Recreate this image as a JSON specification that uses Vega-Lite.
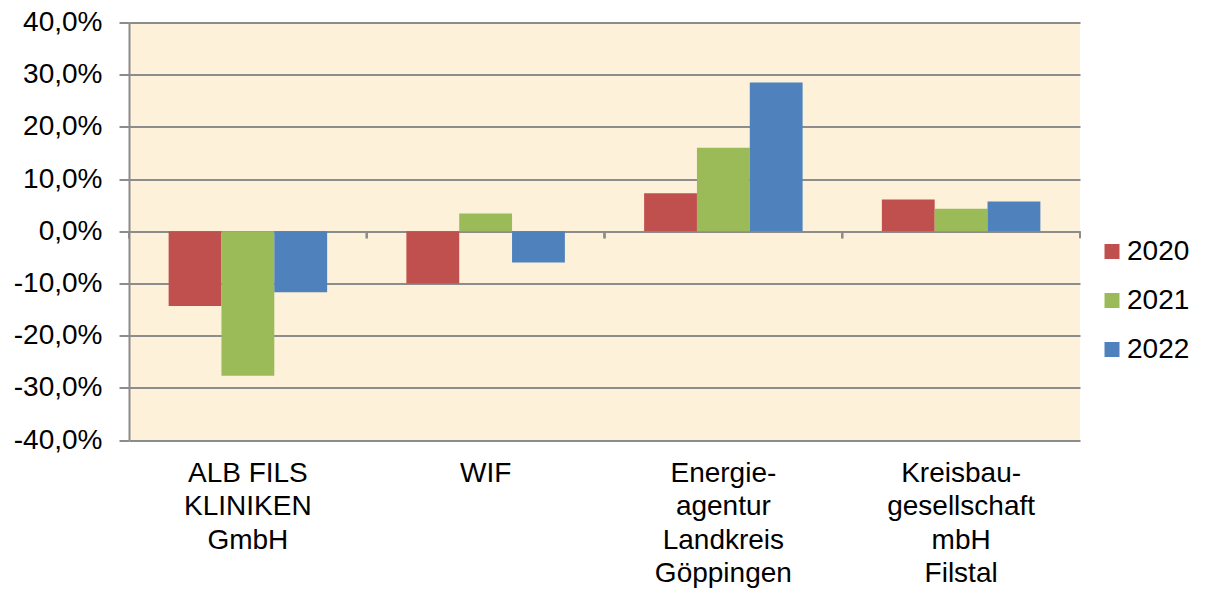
{
  "$schema": "https://vega.github.io/schema/vega-lite/v6.json",
  "autosize": {"type": "none"},
  "width": 951,
  "height": 417.5,
  "padding": {"left": 129, "top": 22.5, "right": 130, "bottom": 151},
  "background": "white",
  "config": {
    "font": "Liberation Sans",
    "view": {"fill": "#fdf1da", "stroke": null}
  },
  "data": {
    "values": [
      {"company": "ALB FILS\nKLINIKEN\nGmbH", "year": "2020", "value": -0.143},
      {"company": "ALB FILS\nKLINIKEN\nGmbH", "year": "2021", "value": -0.277},
      {"company": "ALB FILS\nKLINIKEN\nGmbH", "year": "2022", "value": -0.117},
      {"company": "WIF", "year": "2020", "value": -0.100},
      {"company": "WIF", "year": "2021", "value": 0.034},
      {"company": "WIF", "year": "2022", "value": -0.060},
      {"company": "Energie-\nagentur\nLandkreis\nGöppingen", "year": "2020", "value": 0.073},
      {"company": "Energie-\nagentur\nLandkreis\nGöppingen", "year": "2021", "value": 0.160},
      {"company": "Energie-\nagentur\nLandkreis\nGöppingen", "year": "2022", "value": 0.285},
      {"company": "Kreisbau-\ngesellschaft\nmbH\nFilstal", "year": "2020", "value": 0.061},
      {"company": "Kreisbau-\ngesellschaft\nmbH\nFilstal", "year": "2021", "value": 0.043},
      {"company": "Kreisbau-\ngesellschaft\nmbH\nFilstal", "year": "2022", "value": 0.057}
    ]
  },
  "encoding": {
    "x": {
      "field": "company",
      "type": "nominal",
      "sort": null,
      "scale": {"paddingInner": 0.3333, "paddingOuter": 0.1667},
      "axis": {
        "title": null,
        "domain": false,
        "ticks": false,
        "labelAngle": 0,
        "labelPadding": 19,
        "labelFontSize": 28,
        "labelLineHeight": 33.5,
        "labelColor": "#000000",
        "labelBaseline": "top",
        "labelExpr": "split(datum.value, '\\n')"
      }
    }
  },
  "layer": [
    {
      "mark": {"type": "bar"},
      "encoding": {
        "xOffset": {
          "field": "year",
          "type": "nominal",
          "scale": {"paddingInner": 0, "paddingOuter": 0}
        },
        "y": {
          "field": "value",
          "type": "quantitative",
          "scale": {"domain": [-0.4, 0.4], "nice": false, "zero": false},
          "axis": {
            "title": null,
            "values": [-0.4, -0.3, -0.2, -0.1, 0, 0.1, 0.2, 0.3, 0.4],
            "grid": true,
            "gridColor": "#8c8c8c",
            "gridWidth": 2,
            "domainColor": "#8c8c8c",
            "domainWidth": 2,
            "tickColor": "#8c8c8c",
            "tickWidth": 2,
            "tickSize": 10,
            "labelPadding": 17,
            "labelFontSize": 28,
            "labelColor": "#000000",
            "labelExpr": "replace(replace(format(datum.value, '.1%'), '.', ','), '\u2212', '-')"
          }
        },
        "color": {
          "field": "year",
          "type": "nominal",
          "scale": {"domain": ["2020", "2021", "2022"], "range": ["#c0504d", "#9bbb59", "#4f81bd"]},
          "legend": {
            "title": null,
            "orient": "none",
            "legendX": 969,
            "legendY": 215,
            "padding": 0,
            "symbolType": "square",
            "symbolSize": 225,
            "symbolStrokeWidth": 0,
            "symbolOpacity": 1,
            "labelFontSize": 28,
            "labelColor": "#000000",
            "labelOffset": 1,
            "rowPadding": 21
          }
        }
      }
    },
    {
      "mark": {"type": "rule", "color": "#8c8c8c", "strokeWidth": 2},
      "encoding": {
        "x": {"field": "company", "type": "nominal", "sort": null, "bandPosition": -0.25},
        "y": {"datum": 0, "type": "quantitative"},
        "y2": {"datum": -0.0135}
      }
    },
    {
      "transform": [{"filter": "datum.company === 'Kreisbau-\\ngesellschaft\\nmbH\\nFilstal' && datum.year === '2020'"}],
      "mark": {"type": "rule", "color": "#8c8c8c", "strokeWidth": 2},
      "encoding": {
        "x": {"field": "company", "type": "nominal", "sort": null, "bandPosition": 1.25},
        "y": {"datum": 0, "type": "quantitative"},
        "y2": {"datum": -0.0135}
      }
    }
  ]
}
